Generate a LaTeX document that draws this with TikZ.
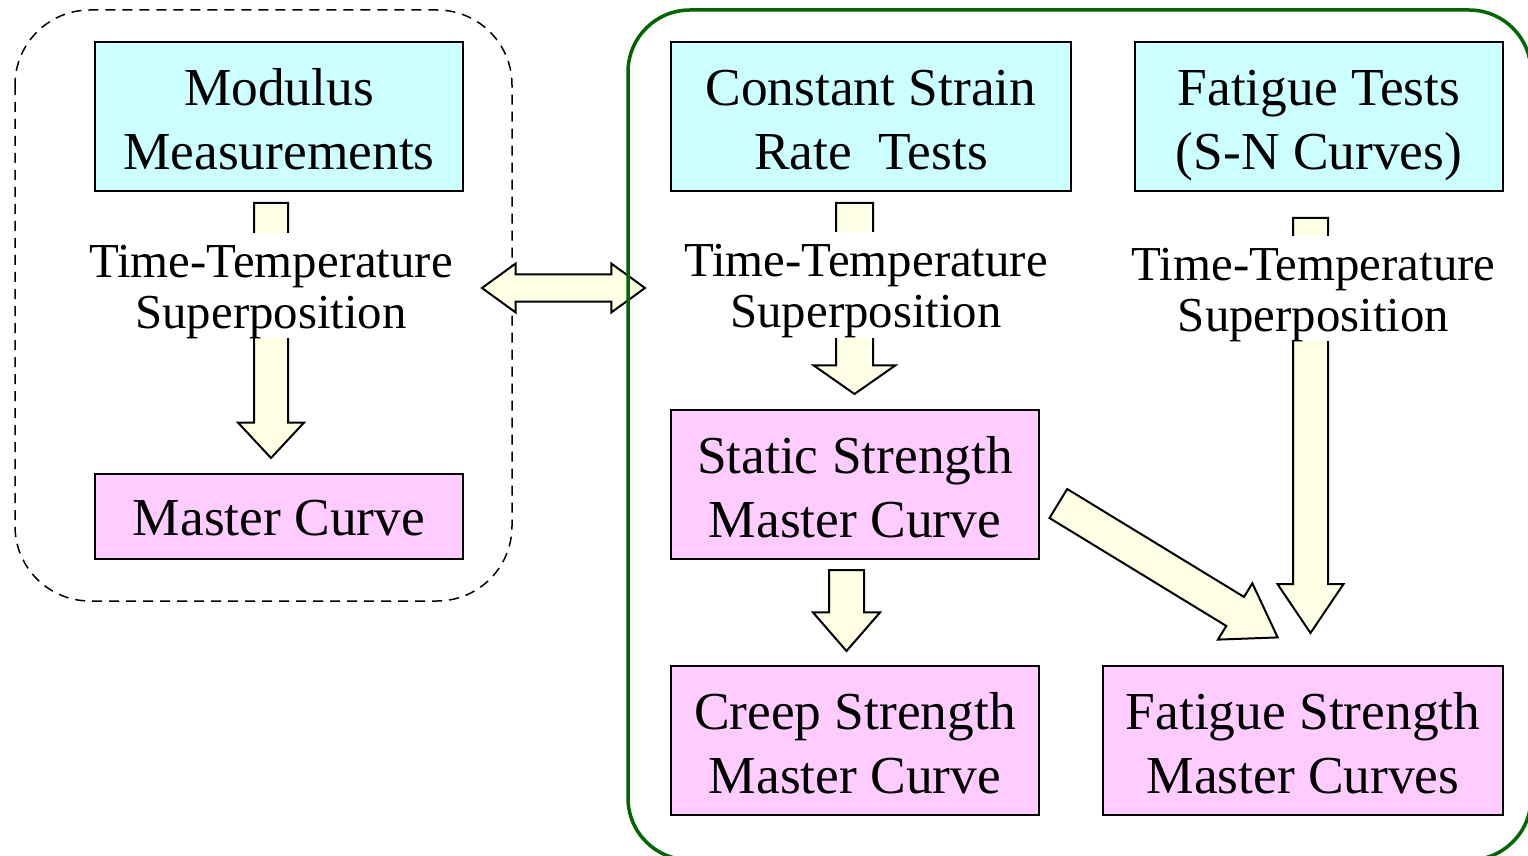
\documentclass[tikz,border=0pt]{standalone}
\usepackage{fontspec}
\setmainfont{Liberation Serif}
\usetikzlibrary{positioning}
\usetikzlibrary{shapes.arrows}
\usepackage{xcolor}
\definecolor{testcyan}{RGB}{204,255,255}
\definecolor{curvepink}{RGB}{255,204,255}
\definecolor{arrowyellow}{RGB}{255,255,229}
\definecolor{framegreen}{RGB}{0,102,0}
\newcommand{\boxfont}{\fontsize{26.7}{32}\selectfont}
\newcommand{\ttsfont}{\fontsize{24.4}{25.5}\selectfont}

\begin{document}
\begin{tikzpicture}[x=0.5pt, y=-0.5pt,
		testbox/.style={rectangle, draw, line width=1pt, fill=testcyan, minimum height=74.5pt, align=center, font=\boxfont,
			text height=53pt, text depth=0pt},
		curvebox/.style={testbox, fill=curvepink},
		ttslabel/.style={fill=white, inner xsep=1pt, inner ysep=0pt, align=center, font=\ttsfont,
			text height=47.7pt, text depth=4.8pt},
		blockarrow/.style={single arrow, draw, line width=1pt, fill=arrowyellow, inner xsep=0pt, inner ysep=8pt, single arrow head extend=8pt, anchor=tail},
		]
		\useasboundingbox (0,0) rectangle (1528,856);
		
		%Frames
		\draw[line width=0.75pt, dash pattern=on 5pt off 3.5pt, rounded corners=37.5pt] (15,10) rectangle (512,601);
		\node[double arrow, draw, line width=1pt, fill=arrowyellow, inner xsep=0pt, inner ysep=6.25pt, double arrow head extend=5.5pt, double arrow tip angle=72, minimum height=81.5pt] (link) at (563.5,288) {};
		\draw[framegreen, line width=1.75pt, rounded corners=31pt] (628,10) rectangle (1531,860);
		
		%Block arrows
		\node[blockarrow, single arrow tip angle=86, minimum height=127.5pt, rotate=-90] (arrow-left) at (271,202) {};
		\node[blockarrow, inner ysep=8.75pt, single arrow head extend=11.25pt, single arrow tip angle=110, minimum height=95.5pt, rotate=-90] (arrow-mid) at (854.5,202) {};
		\node[blockarrow, inner ysep=8.25pt, single arrow head extend=7.75pt, single arrow tip angle=68, minimum height=207.5pt, rotate=-90] (arrow-right) at (1310.5,217) {};
		\node[blockarrow, inner ysep=8.25pt, single arrow tip angle=82, minimum height=40.5pt, rotate=-90] (arrow-creep) at (846.5,569) {};
		\node[blockarrow, single arrow tip angle=67, minimum height=128.5pt, rotate=-31.4] (arrow-diag) at (1057.5,503) {};
		
		%Superposition labels
		\node[ttslabel] (tts-left)  at (271,285.5)  {Time-Temperature\\Superposition};
		\node[ttslabel] (tts-mid)   at (866,285)    {Time-Temperature\\Superposition};
		\node[ttslabel] (tts-right) at (1313.5,288.5) {Time-Temperature\\Superposition};
		
		%Nodes
		\node[testbox, minimum width=184pt]  (modulus)   at (279,116.5) {Modulus\\Measurements};
		\node[curvebox, minimum width=184pt, minimum height=42.5pt, text height=19pt] (master) at (279,516.5) {Master Curve};
		\node[testbox, minimum width=200pt]  (strain)    at (871,116.5) {Constant Strain\\Rate~~Tests};
		\node[testbox, minimum width=184pt]  (fatigue)   [right=31pt of strain] {Fatigue Tests\\(S-N Curves)};
		\node[curvebox, minimum width=184pt] (static)    at (855,484.5) {Static Strength\\Master Curve};
		\node[curvebox, minimum width=184pt] (creep)     [below=52.5pt of static] {Creep Strength\\Master Curve};
		\node[curvebox, minimum width=200pt] (fatigue-mc) at (1303,740.5) {Fatigue Strength\\Master Curves};
	\end{tikzpicture}
\end{document}
